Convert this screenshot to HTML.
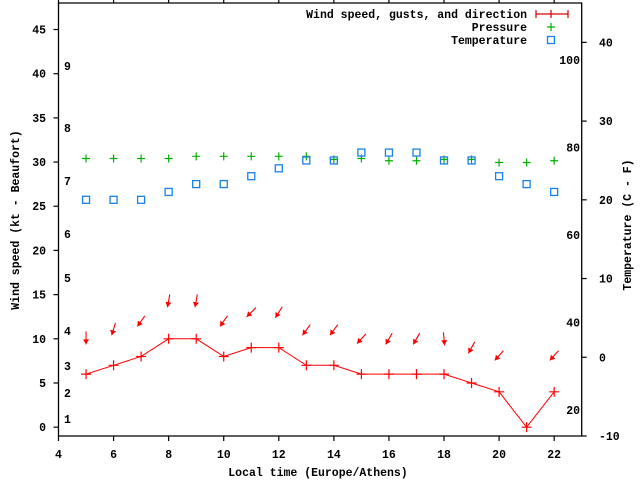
<!DOCTYPE html>
<html><head><meta charset="utf-8"><style>
body{margin:0;background:#fff}
svg text{font-family:"Liberation Mono",monospace;font-weight:bold;font-size:11.5px;fill:#000}
</style></head><body>
<svg id="c" width="640" height="480" xmlns="http://www.w3.org/2000/svg"></svg>
<script>
const hours=[5,6,7,8,9,10,11,12,13,14,15,16,17,18,19,20,21,22];
const windSpeed=[6,7,8,10,10,8,9,9,7,7,6,6,6,6,5,4,0,4];
const arrowLevel=[10.1,11.1,12,14.3,14.3,12,13,13,11,11,10,10,10,10,9,8.1,null,8.1];
const windDir=[0,17,35,10,10,35,45,32,36,36,42,30,30,355,29,42,null,42];
const pressure=[30.4,30.4,30.4,30.4,30.65,30.65,30.65,30.65,30.65,30.3,30.4,30.15,30.15,30.3,30.3,29.95,29.95,30.15];
const tempC=[20,20,20,21,22,22,23,24,25,25,26,26,26,25,25,23,22,21];
const xTicks=[4,6,8,10,12,14,16,18,20,22];
const yTicks=[0,5,10,15,20,25,30,35,40,45];
const y2Ticks=[-10,0,10,20,30,40];
const fTicks=[20,40,60,80,100];
const bftLabels=[1,2,3,4,5,6,7,8,9];
const bftY=[419,393,366,331,278,234,181,128,66];

const L=58.5,R=581.7,T=3,B=436;
const X=h=>L+(h-4)*(R-L)/19;
const Y=v=>B-(v+1)*(B-T)/49;
const Y2=c=>B-(c+10)*(B-T)/55;
const svg=document.getElementById('c');
const NS='http://www.w3.org/2000/svg';
function mk(tag,attrs,parent){const e=document.createElementNS(NS,tag);for(const k in attrs)e.setAttribute(k,attrs[k]);(parent||svg).appendChild(e);return e;}
function txt(s,x,y,anchor){const t=mk('text',{x:x,y:y,'text-anchor':anchor||'start'});t.textContent=s;return t;}

const fr=mk('path',{d:`M${L} ${T}V${B}H${R}V${T}H${L}`,fill:'none',stroke:'#000','stroke-width':1.3});



xTicks.forEach(v=>{
  const x=X(v);
  const tk=mk('path',{d:`M${x} ${B}v5M${x} ${T}v-4`,stroke:'#000','stroke-width':1.2});
  
  
  const t=txt(String(v),x,458,'middle');
  
  
});
yTicks.forEach(v=>{
  const y=Y(v);
  const tk=mk('path',{d:`M${L} ${y}h-5`,stroke:'#000','stroke-width':1.2});
  
  
  const t=txt(String(v),46,y+4,'end');
  
  
});
y2Ticks.forEach(v=>{
  const y=Y2(v);
  const tk=mk('path',{d:`M${R} ${y}h5`,stroke:'#000','stroke-width':1.2});
  
  
  const t=txt(String(v),599,y+4,'start');
  
  
});
fTicks.forEach(f=>{
  const y=Y2((f-32)/1.8);
  const t=txt(String(f),580,y+4,'end');
  
  
});
bftLabels.forEach((b,i)=>{
  const t=txt(String(b),64,bftY[i]+4,'start');
  
  
});

let t=txt('Wind speed (kt - Beaufort)',0,0,'middle');
t.setAttribute('transform','translate(19,220) rotate(-90)');


t=txt('Temperature (C - F)',0,0,'middle');
t.setAttribute('transform','translate(631,225) rotate(-90)');


t=txt('Local time (Europe/Athens)',318,476,'middle');



const pts=hours.map((h,i)=>X(h)+','+Y(windSpeed[i])).join(' ');
const ln=mk('polyline',{points:pts,fill:'none',stroke:'#f00','stroke-width':1});


hours.forEach((h,i)=>{
  const x=X(h),y=Y(windSpeed[i]);
  const p=mk('path',{d:`M${x-5} ${y}h10M${x} ${y-5}v10`,stroke:'#f00','stroke-width':1.2});
  
  
});
hours.forEach((h,i)=>{
  if(arrowLevel[i]==null)return;
  const cx=X(h),cy=Y(arrowLevel[i]);
  const a=windDir[i]*Math.PI/180;
  const dx=-Math.sin(a),dy=Math.cos(a),len=13;
  const x1=cx-dx*len/2,y1=cy-dy*len/2,x2=cx+dx*len/2,y2=cy+dy*len/2;
  const g=mk('g',{});
  
  
  mk('line',{x1:x1,y1:y1,x2:x2,y2:y2,stroke:'#f00','stroke-width':1.1},g);
  const px=-dy,py=dx,hl=5,hw=3;
  const bx=x2-dx*hl,by=y2-dy*hl;
  mk('polygon',{points:`${x2},${y2} ${bx+px*hw},${by+py*hw} ${bx-px*hw},${by-py*hw}`,fill:'#f00'},g);
});
hours.forEach((h,i)=>{
  const x=X(h),y=Y(pressure[i]);
  const p=mk('path',{d:`M${x-4} ${y}h8M${x} ${y-4}v8`,stroke:'#00b000','stroke-width':1.2});
  
  
});
hours.forEach((h,i)=>{
  const x=X(h),y=Y2(tempC[i]);
  const r=mk('rect',{x:x-3.5,y:y-3.5,width:7,height:7,fill:'none',stroke:'#1a80e8','stroke-width':1.3});
  
  
});

const lg=mk('g',{});


[['Wind speed, gusts, and direction',18],['Pressure',31],['Temperature',44]].forEach(([s,y])=>{
  const e=document.createElementNS(NS,'text');e.setAttribute('x',527);e.setAttribute('y',y);e.setAttribute('text-anchor','end');e.textContent=s;
  
  
  lg.appendChild(e);
});
mk('path',{d:'M536 14h32M536 10v8M568 10v8M551 10v8',stroke:'#d00','stroke-width':1.2},lg);
mk('path',{d:'M547 27h8M551 23v8',stroke:'#00b000','stroke-width':1.2},lg);
mk('rect',{x:547.5,y:36.5,width:7,height:7,fill:'none',stroke:'#1a80e8','stroke-width':1.3},lg);
</script>
</body></html>
